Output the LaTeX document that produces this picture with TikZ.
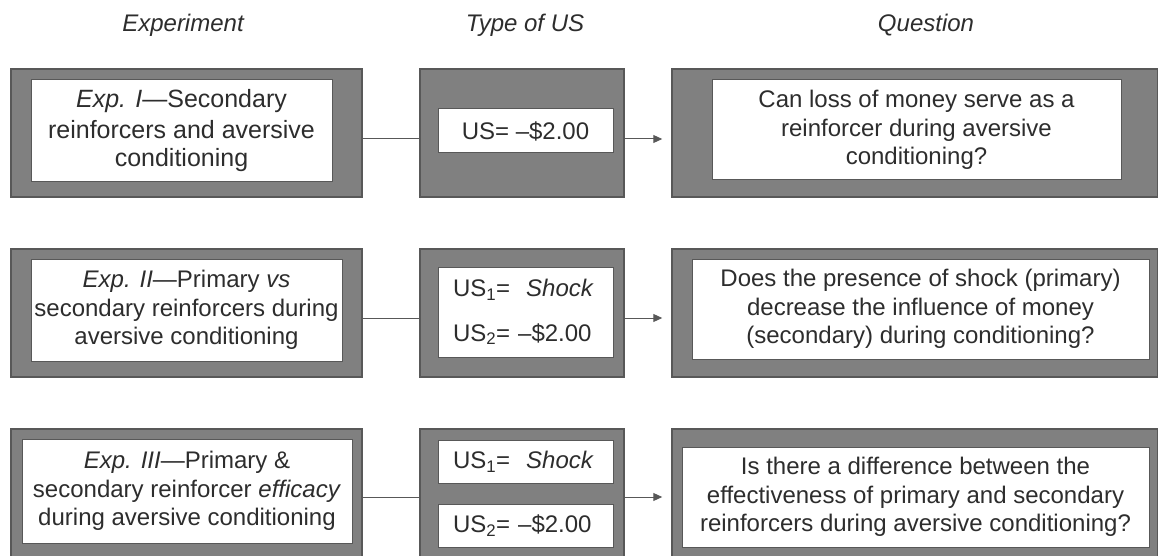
\documentclass[tikz,border=0pt]{standalone}
\usepackage{fontspec}
\setmainfont{Liberation Sans}
\usetikzlibrary{arrows.meta}

\definecolor{boxgray}{RGB}{128,128,128}
\definecolor{edgegray}{RGB}{88,88,88}
\definecolor{inkgray}{RGB}{45,45,45}

\tikzset{
    outerbox/.style={draw=edgegray, line width=1.5pt, fill=boxgray, minimum height=128pt, inner sep=0pt},
    innerbox/.style={draw=edgegray, line width=1pt, fill=white, text=inkgray, align=center, inner sep=0pt,
        font=\fontsize{24}{28.5}\selectfont},
    usbox/.style={innerbox, minimum width=175pt, text width=145pt, align=left},
    heading/.style={text=inkgray, anchor=base, font=\fontsize{24}{28}\selectfont\itshape},
    link/.style={draw=edgegray, line width=1pt},
    tolink/.style={link, -{Triangle[length=9pt,width=8pt]}, shorten >=9pt},
}

\begin{document}
\begin{tikzpicture}[x=1pt,y=-1pt]
    \useasboundingbox (0,0) rectangle (1158,556); % Keep the page size

    \node[heading] (hexp) at (183,32) {Experiment}; % Label for the first column
    \node[heading] (hus) at (525,32) {Type of US}; % Label for the second column
    \node[heading] (hq) at (926,32) {Question}; % Label for the third column

    % The grey frames of the three rows
    \node[outerbox, minimum width=351pt] (exp1) at (186.5,133) {};
    \node[outerbox, minimum width=204pt] (us1) at (522,133) {};
    \node[outerbox, minimum width=486pt] (q1) at (915,133) {};

    \node[outerbox, minimum width=351pt] (exp2) at (186.5,313) {};
    \node[outerbox, minimum width=204pt] (us2) at (522,313) {};
    \node[outerbox, minimum width=486pt] (q2) at (915,313) {};

    \node[outerbox, minimum width=351pt] (exp3) at (186.5,493) {};
    \node[outerbox, minimum width=204pt] (us3) at (522,493) {};
    \node[outerbox, minimum width=486pt] (q3) at (915,493) {};

    % Experiment I
    \node[innerbox, minimum width=301pt, minimum height=102pt, font=\fontsize{25}{28.5}\selectfont] (exp1txt) at (181.5,131)
        {\textit{Exp. I}---Secondary\\[2pt]reinforcers and aversive\\conditioning};
    \node[innerbox, minimum width=175pt, minimum height=44pt] (us1txt) at (525.5,131) {US= --\$2.00};
    \node[innerbox, minimum width=409pt, minimum height=100pt] (q1txt) at (916.5,130)
        {Can loss of money serve as a\\reinforcer during aversive\\conditioning?};

    % Experiment II
    \node[innerbox, minimum width=311pt, minimum height=102pt] (exp2txt) at (186.5,310)
        {\textit{Exp. II}---Primary \textit{vs}\\secondary reinforcers during\\aversive conditioning};
    \node[usbox, minimum height=90pt] (us2txt) at (525.5,312)
        {US\textsubscript{1}=~~\textit{Shock}\\[16pt]US\textsubscript{2}= --\$2.00};
    \node[innerbox, minimum width=457pt, minimum height=100pt] (q2txt) at (920.5,309)
        {Does the presence of shock (primary)\\decrease the influence of money\\(secondary) during conditioning?};

    % Experiment III
    \node[innerbox, minimum width=330pt, minimum height=104pt] (exp3txt) at (187,491)
        {\textit{Exp. III}---Primary \&\\secondary reinforcer \textit{efficacy}\\during aversive conditioning};
    \node[usbox, minimum height=43pt] (us3a) at (525.5,461.5) {US\textsubscript{1}=~~\textit{Shock}};
    \node[usbox, minimum height=43pt] (us3b) at (525.5,525.5) {US\textsubscript{2}= --\$2.00};
    \node[innerbox, minimum width=467pt, minimum height=100pt] (q3txt) at (915.5,497)
        {Is there a difference between the\\effectiveness of primary and secondary\\reinforcers during aversive conditioning?};

    % Connect the rows
    \draw[link] ([yshift=-6pt]exp1.east) -- ([yshift=-6pt]us1.west);
    \draw[tolink] ([yshift=-6pt]us1.east) -- ([yshift=-6pt]q1.west);
    \draw[link] ([yshift=-5pt]exp2.east) -- ([yshift=-5pt]us2.west);
    \draw[tolink] ([yshift=-5pt]us2.east) -- ([yshift=-5pt]q2.west);
    \draw[link] ([yshift=-4pt]exp3.east) -- ([yshift=-4pt]us3.west);
    \draw[tolink] ([yshift=-4pt]us3.east) -- ([yshift=-4pt]q3.west);
\end{tikzpicture}
\end{document}
